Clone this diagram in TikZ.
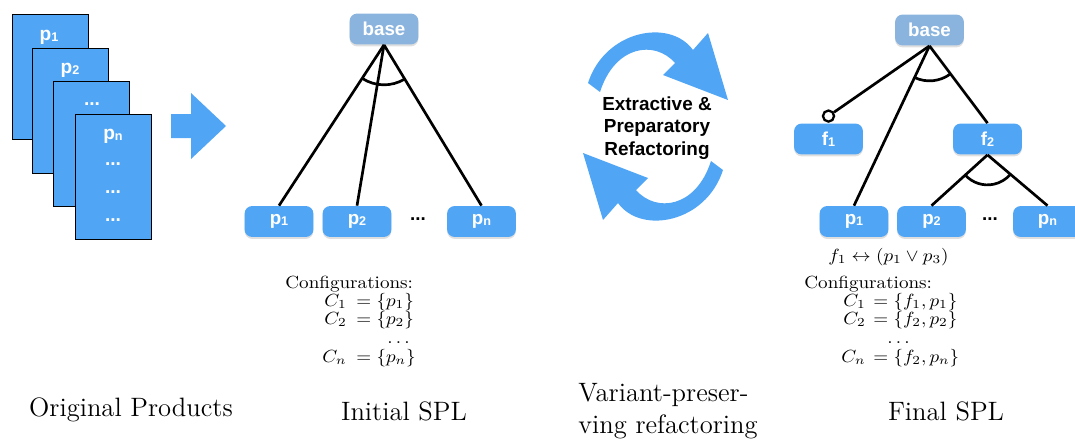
\documentclass[tikz,border=0pt]{standalone}
\usepackage{fontspec}
\newfontfamily\hv{Liberation Sans}
\usetikzlibrary{angles,shadows}
\definecolor{boxblue}{RGB}{80,166,245}
\definecolor{baseblue}{RGB}{138,180,222}
% small index digit inside the white feature labels
\newcommand\nsub[1]{\raisebox{-0.5pt}{\fontsize{6.6}{7}\selectfont #1}}

\begin{document}
\begin{tikzpicture}[x=0.523pt,y=0.523pt,
  feat/.style={rounded corners=4pt, fill=boxblue, minimum width=36pt, minimum height=16.2pt,
    inner sep=0pt, text=white, font=\hv\bfseries\fontsize{9.8}{10}\selectfont,
    drop shadow={shadow xshift=0pt, shadow yshift=-1pt, opacity=0.25}},
  rootfeat/.style={feat, fill=baseblue},
  edge/.style={line width=1.4pt},
  page/.style={draw=black, line width=0.6pt, fill=boxblue, minimum width=39.7pt,
    minimum height=65.4pt, inner sep=0pt, anchor=north west},
  plabel/.style={text=white, inner sep=0pt, font=\hv\bfseries\fontsize{10}{10}\selectfont},
  dotsl/.style={inner sep=0pt, font=\hv\bfseries\fontsize{9.8}{10}\selectfont},
  squash/.style={yscale=0.92, transform shape},
  cfg/.style={font=\fontsize{10}{12}\selectfont, inner sep=0pt, anchor=base west, squash},
  caption/.style={font=\fontsize{13.9}{16.7}\selectfont, inner sep=0pt},
  arc/.style={draw, line width=1.4pt}
]
\useasboundingbox (0,0) rectangle (1075,-439);
\clip (0,0) rectangle (1075,-439);

% ---------- original products: stacked pages ----------
\node[page] (pg1) at (12,-14) {};
\node[page] (pg2) at (32,-48) {};
\node[page] (pg3) at (53,-81) {};
\node[page] (pg4) at (75,-114) {};
\node[plabel] (l1) at (49,-37) {p\nsub1};
\node[plabel] (l2) at (70,-70) {p\nsub2};
\node[plabel] (l3) at (92,-104) {...};
\node[plabel] (l4) at (113,-136) {p\nsub n};
\node[plabel] (l5) at (113,-164) {...};
\node[plabel] (l6) at (113,-192) {...};
\node[plabel] (l7) at (113,-220) {...};

% block arrow
\fill[boxblue] (171,-114) -- (191,-114) -- (191,-93) -- (226,-126) -- (191,-159)
  -- (191,-138) -- (171,-138) -- cycle;

% ---------- initial SPL ----------
\node[rootfeat] (b1) at (384,-29) {base};
\node[feat] (a1) at (279,-221.5) {p\nsub1};
\node[feat] (a2) at (357,-221.5) {p\nsub2};
\node[feat] (an) at (481.5,-221.5) {p\nsub n};
\node[dotsl] (ad) at (418,-219) {...};
\draw[edge] (b1.south) -- (a1.north);
\draw[edge] (b1.south) -- (a2.north);
\draw[edge] (b1.south) -- (an.north);
\coordinate (b1s) at (b1.south);
\coordinate (a1n) at (a1.north);
\coordinate (ann) at (an.north);
\pic[arc, angle radius=20.9pt] {angle = a1n--b1s--ann};

\node[cfg] (cfgA) at (285,-288) {Configurations:};
\node[cfg] (ca1) at (324,-306) {$C_1$};
\node[cfg] (ea1) at (356,-306) {$=\{p_1\}$};
\node[cfg] (ca2) at (324,-324) {$C_2$};
\node[cfg] (ea2) at (356,-324) {$=\{p_2\}$};
\node[cfg] (dA) at (387,-343) {$\ldots$};
\node[cfg] (can) at (322,-362) {$C_n$};
\node[cfg] (ean) at (356,-362) {$=\{p_n\}$};

% ---------- refactoring cycle ----------
\fill[boxblue] (588,-83) .. controls (605,-30) and (670,-18) .. (693,-50)
  -- (708,-33) -- (728,-100) -- (663,-75) -- (675,-63)
  .. controls (655,-40) and (615,-45) .. (600,-92) -- cycle;
\fill[boxblue, rotate around={180:(655.5,-126.5)}] (588,-83) .. controls (605,-30) and (670,-18) .. (693,-50)
  -- (708,-33) -- (728,-100) -- (663,-75) -- (675,-63)
  .. controls (655,-40) and (615,-45) .. (600,-92) -- cycle;
\node[font=\hv\bfseries\fontsize{9.9}{11.8}\selectfont, align=center, inner sep=0pt] (mid)
  at (657,-128) {Extractive \&\\Preparatory\\Refactoring};

% ---------- final SPL ----------
\node[rootfeat] (b2) at (929.5,-30) {base};
\node[feat] (f1) at (828.5,-139) {f\nsub1};
\node[feat] (f2) at (987.5,-139) {f\nsub2};
\node[feat] (q1) at (854,-221.5) {p\nsub1};
\node[feat] (q2) at (931.5,-221.5) {p\nsub2};
\node[feat] (qn) at (1047.5,-221.5) {p\nsub n};
\node[dotsl] (qd) at (990,-219) {...};
\node[circle, draw, fill=white, line width=1.2pt, minimum size=5.8pt, inner sep=0pt,
  anchor=south] (o1) at ([yshift=0.2pt]f1.north) {};
\draw[edge] (b2.south) -- (o1);
\draw[edge] (b2.south) -- (q1.north);
\draw[edge] (b2.south) -- (f2.north);
\draw[edge] (f2.south) -- (q2.north);
\draw[edge] (f2.south) -- (qn.north);
\coordinate (b2s) at (b2.south);
\coordinate (q1n) at (q1.north);
\coordinate (f2n) at (f2.north);
\coordinate (f2s) at (f2.south);
\coordinate (q2n) at (q2.north);
\coordinate (qnn) at (qn.north);
\pic[arc, angle radius=18.3pt] {angle = q1n--b2s--f2n};
\pic[arc, angle radius=15.7pt] {angle = q2n--f2s--qnn};

\node[cfg] (phi) at (828,-261) {$f_1 \leftrightarrow (p_1 \vee p_3)$};
\node[cfg] (cfgB) at (804,-288) {Configurations:};
\node[cfg] (cb1) at (843,-306) {$C_1$};
\node[cfg] (eb1) at (873,-306) {$=\{f_1,p_1\}$};
\node[cfg] (cb2) at (843,-324) {$C_2$};
\node[cfg] (eb2) at (873,-324) {$=\{f_2,p_2\}$};
\node[cfg] (dB) at (887,-343) {$\ldots$};
\node[cfg] (cbn) at (841,-362) {$C_n$};
\node[cfg] (ebn) at (873,-362) {$=\{f_2,p_n\}$};

% ---------- captions ----------
\node[caption] (t1) at (131,-410) {Original Products};
\node[caption] (t2) at (404,-411) {Initial SPL};
\node[caption, align=left, anchor=west] (t3) at (578,-411) {Variant-preser-\\ving refactoring};
\node[caption] (t4) at (946,-411) {Final SPL};
\end{tikzpicture}
\end{document}
